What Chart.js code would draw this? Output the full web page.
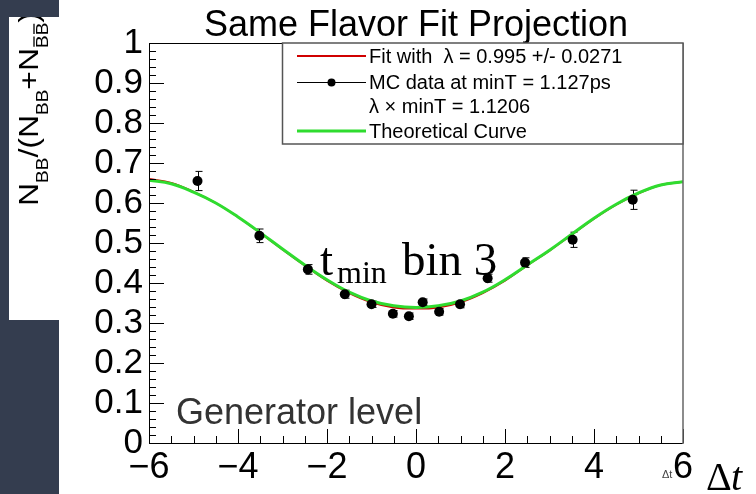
<!DOCTYPE html>
<html>
<head>
<meta charset="utf-8">
<script src="https://cdn.jsdelivr.net/npm/chart.js@4.4.1/dist/chart.umd.min.js"></script>
<style>
  html, body { margin: 0; padding: 0; background: #fff; }
  canvas { display: block; }
</style>
</head>
<body>
<canvas id="myChart" width="756" height="494"></canvas>
<script>
// MC data points (delta t, ratio, error)
const dataX = [-4.91, -3.52, -2.43, -1.60, -1.00, -0.52, -0.16, 0.15, 0.52, 0.99, 1.61, 2.45, 3.52, 4.87];
const dataY = [0.655, 0.518, 0.434, 0.372, 0.347, 0.323, 0.317, 0.352, 0.328, 0.347, 0.412, 0.451, 0.508, 0.608];
const dataErr = [0.024, 0.017, 0.012, 0.010, 0.008, 0.008, 0.008, 0.008, 0.008, 0.009, 0.010, 0.012, 0.019, 0.024];

// curves
const curveX = [-6, -5.5, -5, -4.5, -4, -3.5, -3, -2.5, -2, -1.5, -1, -0.5, 0, 0.5, 1, 1.5, 2, 2.5, 3, 3.5, 4, 4.5, 5, 5.5, 6];
const theoryY = [0.657, 0.648, 0.627, 0.600, 0.565, 0.526, 0.485, 0.445, 0.408, 0.377, 0.355, 0.343, 0.339, 0.343, 0.355, 0.377, 0.408, 0.445, 0.482, 0.522, 0.562, 0.597, 0.625, 0.645, 0.653];
const fitY = [0.660, 0.650, 0.628, 0.600, 0.565, 0.525, 0.484, 0.444, 0.406, 0.375, 0.352, 0.339, 0.336, 0.339, 0.352, 0.375, 0.406, 0.444, 0.481, 0.521, 0.561, 0.596, 0.624, 0.645, 0.653];

const titleText = "Same Flavor Fit Projection";
const legendLabels = ["Fit with  \u03bb = 0.995 +/- 0.0271", "MC data at minT = 1.127ps", "\u03bb \u00d7 minT = 1.1206", "Theoretical Curve"];

const SANS = '"Liberation Sans", Arial, Helvetica, sans-serif';
const SERIF = '"Liberation Serif", "Times New Roman", serif';

const rootStyle = {
  id: 'rootStyle',
  beforeDraw(chart) {
    const ctx = chart.ctx;
    ctx.save();
    ctx.fillStyle = '#ffffff';
    ctx.fillRect(0, 0, chart.width, chart.height);
    ctx.fillStyle = '#343d4f';
    ctx.fillRect(0, 0, 59, chart.height);
    ctx.fillStyle = '#ffffff';
    ctx.fillRect(9, 17, 50, 303);
    ctx.restore();
  },
  beforeDatasetsDraw(chart) {
    // error bars
    const ctx = chart.ctx;
    const xs = chart.scales.x, ys = chart.scales.y;
    ctx.save();
    ctx.strokeStyle = '#000';
    ctx.lineWidth = 1;
    for (let i = 0; i < dataX.length; i++) {
      const px = Math.round(xs.getPixelForValue(dataX[i])) + 0.5;
      const top = ys.getPixelForValue(dataY[i] + dataErr[i]);
      const bot = ys.getPixelForValue(dataY[i] - dataErr[i]);
      ctx.beginPath();
      ctx.moveTo(px, top); ctx.lineTo(px, bot);
      ctx.moveTo(px - 3, top); ctx.lineTo(px + 4, top);
      ctx.moveTo(px - 3, bot); ctx.lineTo(px + 4, bot);
      ctx.stroke();
    }
    ctx.restore();
  },
  afterDatasetsDraw(chart) {
    const ctx = chart.ctx;
    const a = chart.chartArea;
    const xs = chart.scales.x, ys = chart.scales.y;
    ctx.save();
    ctx.strokeStyle = '#000';
    ctx.lineWidth = 1;
    ctx.beginPath();
    // x ticks, inward
    for (let i = 0; i <= 24; i++) {
      const v = -6 + i * 0.5;
      const px = Math.round(xs.getPixelForValue(v)) + 0.5;
      const len = (i % 4 === 0) ? 14 : 7;
      ctx.moveTo(px, a.bottom); ctx.lineTo(px, a.bottom - len);
    }
    // y ticks, inward
    for (let i = 0; i <= 50; i++) {
      const v = i * 0.02;
      const py = Math.round(ys.getPixelForValue(v)) + 0.5;
      const len = (i % 5 === 0) ? 15 : 7;
      ctx.moveTo(a.left, py); ctx.lineTo(a.left + len, py);
    }
    ctx.stroke();
    // frame
    ctx.beginPath();
    ctx.moveTo(a.right, a.top + 0.5); ctx.lineTo(a.left + 0.5, a.top + 0.5);
    ctx.lineTo(a.left + 0.5, a.bottom + 0.5); ctx.lineTo(a.right, a.bottom + 0.5);
    ctx.stroke();
    ctx.strokeStyle = '#666';
    ctx.lineWidth = 1.5;
    ctx.beginPath();
    ctx.moveTo(a.right, a.top); ctx.lineTo(a.right, a.bottom + 1);
    ctx.stroke();
    ctx.restore();
  },
  afterDraw(chart) {
    const ctx = chart.ctx;
    const a = chart.chartArea;
    ctx.save();

    // title
    ctx.fillStyle = '#000';
    ctx.font = '36px ' + SANS;
    ctx.textAlign = 'center';
    ctx.textBaseline = 'alphabetic';
    ctx.fillText(titleText, (a.left + a.right) / 2, 36);

    // legend box
    const lx = 282, ly = a.top, lw = a.right - 282, lh = 101;
    ctx.fillStyle = '#fff';
    ctx.fillRect(lx, ly, lw, lh);
    ctx.strokeStyle = '#555';
    ctx.lineWidth = 1.5;
    ctx.strokeRect(lx + 0.5, ly, lw - 0.5, lh);
    const rows = [56, 82, 106, 131];
    ctx.lineWidth = 2;
    ctx.strokeStyle = '#d00000';
    ctx.beginPath(); ctx.moveTo(297, rows[0]); ctx.lineTo(366, rows[0]); ctx.stroke();
    ctx.strokeStyle = '#000';
    ctx.lineWidth = 1;
    ctx.beginPath(); ctx.moveTo(297, rows[1] + 0.5); ctx.lineTo(366, rows[1] + 0.5); ctx.stroke();
    ctx.fillStyle = '#000';
    ctx.beginPath(); ctx.arc(331.5, rows[1] + 0.5, 4, 0, Math.PI * 2); ctx.fill();
    ctx.strokeStyle = '#2fdc2f';
    ctx.lineWidth = 3;
    ctx.beginPath(); ctx.moveTo(297, rows[3]); ctx.lineTo(366, rows[3]); ctx.stroke();
    ctx.font = '20px ' + SANS;
    ctx.textAlign = 'left';
    for (let i = 0; i < legendLabels.length; i++) {
      ctx.fillText(legendLabels[i], 369, rows[i] + 7);
    }

    // y axis title, in its own white box
    ctx.save();
    ctx.beginPath(); ctx.rect(9, 17, 50, 303); ctx.clip();
    ctx.translate(38, 206);
    ctx.rotate(-Math.PI / 2);
    const parts = [['N', 0, 0], ['BB', 1, 0], ['/(N', 0, 0], ['BB', 1, 0], ['+N', 0, 0], ['BB', 1, 1], [')', 0, 0]];
    const mainFont = '27px ' + SANS, subFont = '16px ' + SANS;
    let total = 0;
    for (const p of parts) { ctx.font = p[1] ? subFont : mainFont; total += ctx.measureText(p[0]).width; }
    ctx.scale(194 / total, 1);
    ctx.fillStyle = '#000';
    ctx.textAlign = 'left';
    let cx = 0;
    for (const p of parts) {
      ctx.font = p[1] ? subFont : mainFont;
      const w = ctx.measureText(p[0]).width;
      const off = p[1] ? 10 : 0;
      ctx.fillText(p[0], cx, off);
      if (p[2]) {
        ctx.strokeStyle = '#000'; ctx.lineWidth = 1.3;
        const bw = ctx.measureText('B').width;
        ctx.beginPath();
        ctx.moveTo(cx + 1, off - 14); ctx.lineTo(cx + bw - 1, off - 14);
        ctx.moveTo(cx + bw + 1, off - 14); ctx.lineTo(cx + 2 * bw - 1, off - 14);
        ctx.stroke();
      }
      cx += w;
    }
    ctx.restore();

    // annotation texts
    ctx.fillStyle = '#000';
    ctx.textAlign = 'left';
    ctx.font = '47px ' + SERIF;
    ctx.fillText('t', 320, 275);
    ctx.font = '32px ' + SERIF;
    ctx.fillText('min', 337, 283);
    ctx.font = '47px ' + SERIF;
    ctx.fillText('bin 3', 402, 275);

    ctx.fillStyle = '#333';
    ctx.font = '36px ' + SANS;
    ctx.fillText('Generator level', 176, 424);

    ctx.fillStyle = '#444';
    ctx.font = '11px ' + SANS;
    ctx.fillText('\u0394t', 662, 478);

    ctx.fillStyle = '#000';
    ctx.font = '40px ' + SERIF;
    ctx.fillText('\u0394', 706, 490);
    ctx.font = 'italic 40px ' + SERIF;
    ctx.fillText('t', 731, 490);

    ctx.restore();
  }
};

const points = dataX.map((x, i) => ({ x: x, y: dataY[i] }));
const theory = curveX.map((x, i) => ({ x: x, y: theoryY[i] }));
const fit = curveX.map((x, i) => ({ x: x, y: fitY[i] }));

const config = {
  type: 'scatter',
  data: {
    datasets: [
      {
        label: 'MC data',
        data: points,
        pointRadius: 5,
        pointBackgroundColor: '#000',
        pointBorderWidth: 0,
        showLine: false
      },
      {
        label: 'Theoretical Curve',
        data: theory,
        showLine: true,
        borderColor: '#2fdc2f',
        borderWidth: 3,
        pointRadius: 0,
        tension: 0.4
      },
      {
        label: 'Fit',
        data: fit,
        showLine: true,
        borderColor: '#d00000',
        borderWidth: 2,
        pointRadius: 0,
        tension: 0.4
      }
    ]
  },
  options: {
    responsive: false,
    animation: false,
    devicePixelRatio: 1,
    layout: { padding: { left: 59, right: 73, top: 43, bottom: 0 } },
    plugins: {
      legend: { display: false },
      title: { display: false },
      tooltip: { enabled: false }
    },
    scales: {
      x: {
        type: 'linear',
        min: -6,
        max: 6,
        grid: { display: false, drawTicks: false },
        border: { display: false },
        ticks: {
          stepSize: 2,
          autoSkip: false,
          maxRotation: 0,
          padding: 3,
          color: '#000',
          font: { family: SANS, size: 36 },
          callback: (v) => String(v).replace('-', '\u2212')
        },
        afterFit: (s) => { s.height = 51; }
      },
      y: {
        type: 'linear',
        min: 0,
        max: 1,
        grid: { display: false, drawTicks: false },
        border: { display: false },
        ticks: {
          stepSize: 0.1,
          autoSkip: false,
          padding: 6,
          color: '#000',
          font: { family: SANS, size: 35, lineHeight: 1 },
          callback: (v) => (v === 0 ? '0' : v === 1 ? '1' : v.toFixed(1))
        },
        afterFit: (s) => { s.width = 90; }
      }
    }
  },
  plugins: [rootStyle]
};

const myChart = new Chart(document.getElementById('myChart'), config);
</script>
</body>
</html>
